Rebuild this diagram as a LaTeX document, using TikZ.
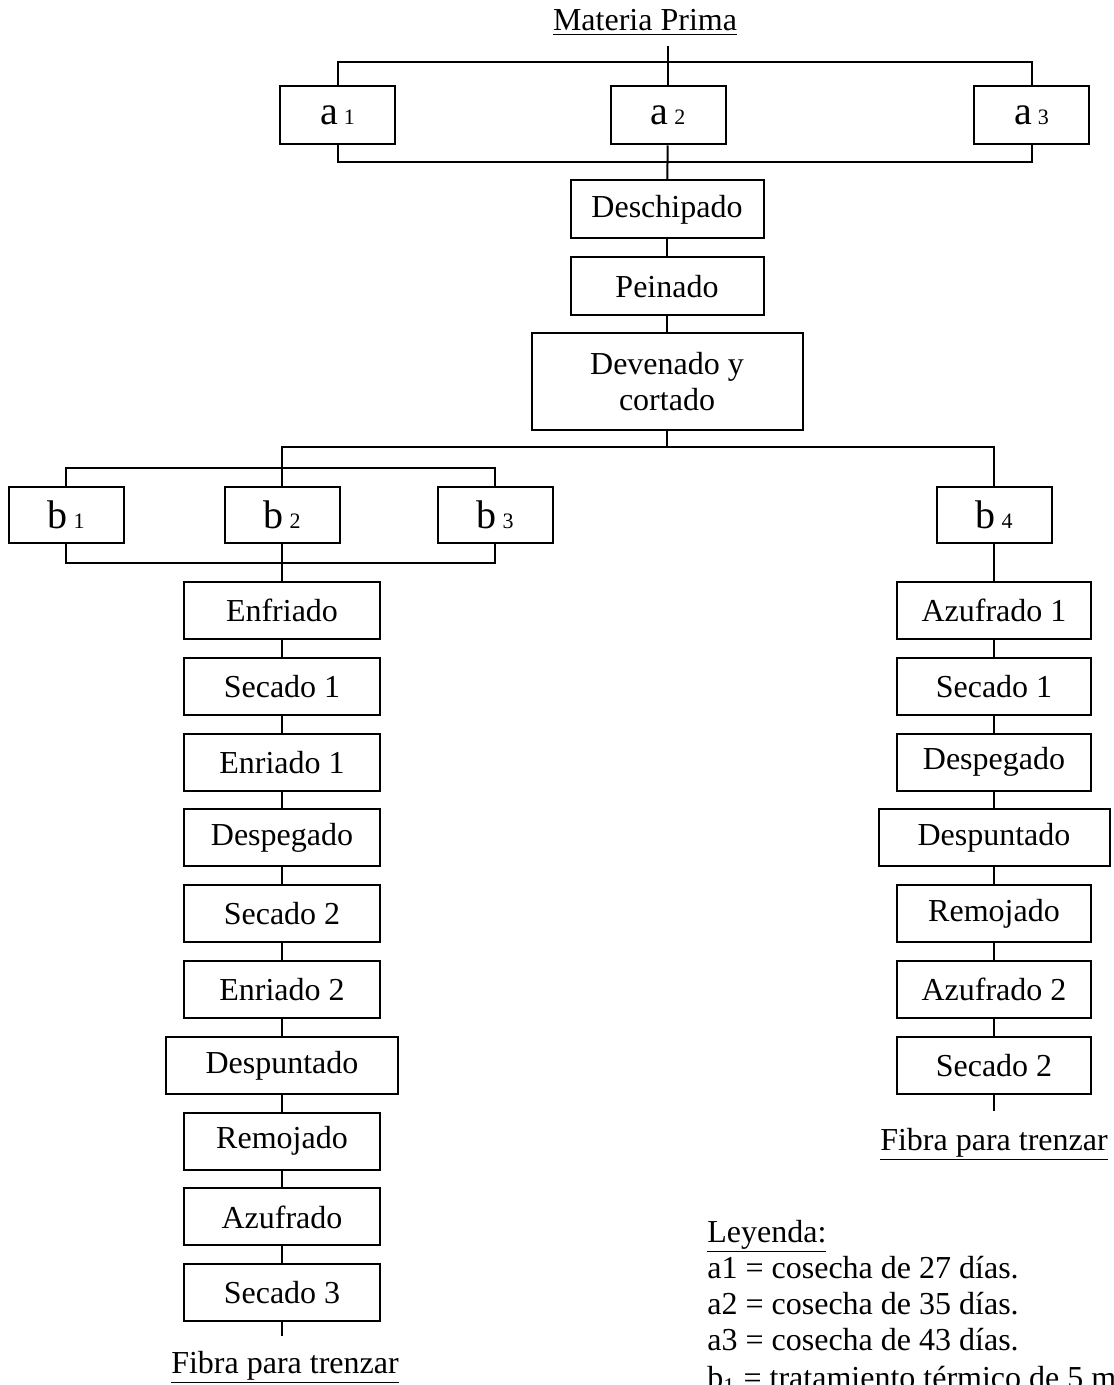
\documentclass[tikz,border=0pt]{standalone}
\usepackage{fontspec}
\setmainfont{Liberation Serif}
\newcommand{\idx}[1]{\hspace{3pt}{\fontsize{11}{11}\selectfont #1}}

\begin{document}
\begin{tikzpicture}[
  x=0.5pt, y=-0.5pt,
  box/.style={draw, line width=1pt, inner sep=0pt, align=center, minimum width=98pt, minimum height=28.5pt, font=\fontsize{16}{18}\selectfont},
  abox/.style={box, minimum width=57.5pt, minimum height=29pt, font=\fontsize{20}{22}\selectfont},
  txt/.style={inner sep=0pt, font=\fontsize{16}{18}\selectfont},
  link/.style={line width=1pt}
]
\clip (0,0) rectangle (1113,1385);

% materia prima y cosechas
\node[txt, anchor=base] (title) at (645,31) {\underline{Materia Prima}};
\coordinate (topend) at (668,46);
\node[abox] (a1) at (337.5,115.5) {a\idx{1}};
\node[abox] (a2) at (668,115.5) {a\idx{2}};
\node[abox] (a3) at (1031.5,115.5) {a\idx{3}};
\coordinate (abar) at (668,62);
\coordinate (abarlow) at (668,162);
\draw[link] (topend) -- (a2);
\draw[link] (a1.north) |- (abar) -| (a3.north);
\draw[link] (a1.south) |- (abarlow) -| (a3.south);

% tronco comun
\node[box, minimum width=96.5pt, minimum height=29pt] (desch) at (667,209.5) {Deschipado};
\node[box, minimum width=96.5pt, minimum height=29pt] (peina) at (667,286.5) {Peinado};
\node[box, minimum width=135.5pt, minimum height=48.5pt] (deven) at (667,381.5) {Devenado y\\cortado};
\draw[link] (a2) -- (desch);
\draw[link] (desch) -- (peina);
\draw[link] (peina) -- (deven);

% tratamientos
\coordinate (split) at (667,447);
\node[abox, minimum height=28pt] (b1) at (66,515) {b\idx{1}};
\node[abox, minimum height=28pt] (b2) at (282,515) {b\idx{2}};
\node[abox, minimum height=28pt] (b3) at (495,515) {b\idx{3}};
\node[abox, minimum height=28pt] (b4) at (994,515) {b\idx{4}};
\coordinate (bbar) at (282,468);
\coordinate (bbarlow) at (282,563);
\draw[link] (deven) -- (split);
\draw[link] (b2.north) |- (split) -| (b4.north);
\draw[link] (b1.north) |- (bbar) -| (b3.north);
\draw[link] (b1.south) |- (bbarlow) -| (b3.south);

% linea b1, b2, b3
\node[box] (l1) at (282,610.5) {Enfriado};
\node[box] (l2) at (282,686.3) {Secado 1};
\node[box] (l3) at (282,762.1) {Enriado 1};
\node[box] (l4) at (282,837.9) {Despegado};
\node[box] (l5) at (282,913.7) {Secado 2};
\node[box] (l6) at (282,989.5) {Enriado 2};
\node[box, minimum width=116pt] (l7) at (282,1065.3) {Despuntado};
\node[box] (l8) at (282,1141.1) {Remojado};
\node[box] (l9) at (282,1216.9) {Azufrado};
\node[box] (l10) at (282,1292.7) {Secado 3};
\coordinate (endL) at (282,1336);
\node[txt, anchor=base] (fibraL) at (285,1373) {\underline{Fibra para trenzar}};
\draw[link] (b2) -- (l1);
\draw[link] (l1) -- (l2);
\draw[link] (l2) -- (l3);
\draw[link] (l3) -- (l4);
\draw[link] (l4) -- (l5);
\draw[link] (l5) -- (l6);
\draw[link] (l6) -- (l7);
\draw[link] (l7) -- (l8);
\draw[link] (l8) -- (l9);
\draw[link] (l9) -- (l10);
\draw[link] (l10) -- (endL);

% linea b4
\node[box, minimum width=97pt] (r1) at (994,610.5) {Azufrado 1};
\node[box, minimum width=97pt] (r2) at (994,686.3) {Secado 1};
\node[box, minimum width=97pt] (r3) at (994,762.1) {Despegado};
\node[box, minimum width=115.5pt] (r4) at (994,837.9) {Despuntado};
\node[box, minimum width=97pt] (r5) at (994,913.7) {Remojado};
\node[box, minimum width=97pt] (r6) at (994,989.5) {Azufrado 2};
\node[box, minimum width=97pt] (r7) at (994,1065.3) {Secado 2};
\coordinate (endR) at (994,1111);
\node[txt, anchor=base] (fibraR) at (994,1150) {\underline{Fibra para trenzar}};
\draw[link] (b4) -- (r1);
\draw[link] (r1) -- (r2);
\draw[link] (r2) -- (r3);
\draw[link] (r3) -- (r4);
\draw[link] (r4) -- (r5);
\draw[link] (r5) -- (r6);
\draw[link] (r6) -- (r7);
\draw[link] (r7) -- (endR);

% leyenda
\node[txt, anchor=base west] (ley) at (707,1242) {\underline{Leyenda:}};
\node[txt, anchor=base west] (leyA1) at (707,1278) {a1 = cosecha de 27 días.};
\node[txt, anchor=base west] (leyA2) at (707,1314) {a2 = cosecha de 35 días.};
\node[txt, anchor=base west] (leyA3) at (707,1350) {a3 = cosecha de 43 días.};
\node[txt, anchor=base west] (leyB1) at (707,1388) {b\textsubscript{1} = tratamiento térmico de 5 min.};
\end{tikzpicture}
\end{document}
